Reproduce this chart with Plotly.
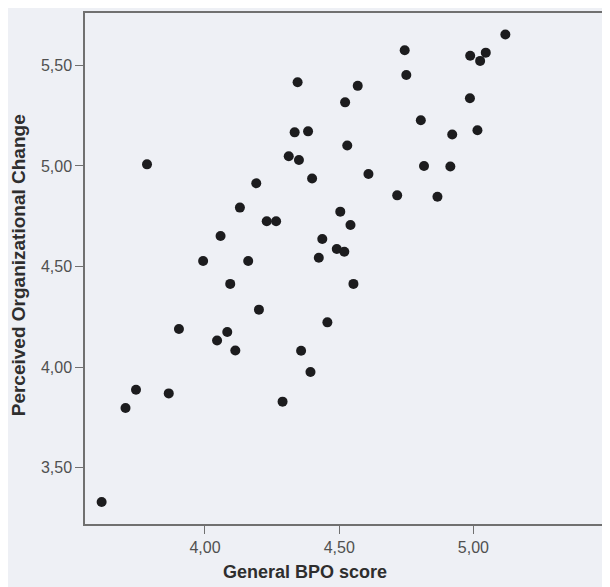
import plotly.graph_objects as go

bpo_score = [
    3.784, 3.993, 4.058, 4.094, 4.130, 4.161, 4.191, 4.230, 4.265, 4.312,
    4.334, 4.345, 4.350, 4.384, 4.399, 4.424, 4.437, 4.491, 4.504, 4.519,
    4.522, 4.530, 4.542, 4.553, 4.569, 4.609, 4.716, 4.744, 4.750, 4.804,
    4.816, 4.866, 4.914, 4.921, 4.987, 4.988, 5.015, 5.025, 5.046, 5.119,
    4.201, 3.903, 4.045, 4.083, 4.113, 4.456, 4.358, 4.393, 4.289, 3.743,
    3.704, 3.865, 3.615,
]
org_change = [
    5.008, 4.528, 4.652, 4.414, 4.793, 4.528, 4.914, 4.725, 4.725, 5.048,
    5.167, 5.416, 5.030, 5.172, 4.938, 4.544, 4.637, 4.587, 4.773, 4.574,
    5.316, 5.102, 4.707, 4.414, 5.398, 4.960, 4.854, 5.575, 5.452, 5.227,
    5.000, 4.847, 4.997, 5.156, 5.336, 5.548, 5.177, 5.522, 5.563, 5.653,
    4.286, 4.190, 4.133, 4.175, 4.083, 4.223, 4.082, 3.976, 3.829, 3.888,
    3.797, 3.870, 3.330,
]
x_ticks = [4.0, 4.5, 5.0]
y_ticks = [3.5, 4.0, 4.5, 5.0, 5.5]
x_title = "General BPO score"
y_title = "Perceived Organizational Change"

bg = "#eef0f5"
axis_col = "#707070"
tick_font = dict(family="Liberation Sans Narrow, Arial Narrow, Liberation Sans, sans-serif",
                 size=16, color="#505050")
title_col = "#2e2e2e"
title_family = "Liberation Sans, Arial, sans-serif"

fig = go.Figure(go.Scatter(
    x=bpo_score, y=org_change, mode="markers",
    marker=dict(size=10, color="#1c1c1e", line=dict(width=0)),
    hoverinfo="x+y",
))

fig.update_layout(
    width=594, height=579,
    margin=dict(l=77, r=0, t=5, b=63, autoexpand=False),
    paper_bgcolor=bg, plot_bgcolor=bg,
    separators=",.",
    showlegend=False,
    xaxis=dict(
        range=[3.553, 5.479], tickvals=x_ticks, tickformat=".2f",
        showgrid=False, zeroline=False, automargin=False,
        showline=True, linecolor=axis_col, linewidth=1.5, mirror=True,
        ticks="outside", ticklen=8, tickcolor=axis_col, tickwidth=1,
        tickfont=tick_font,
    ),
    yaxis=dict(
        range=[3.221, 5.760], tickvals=y_ticks, tickformat=".2f",
        showgrid=False, zeroline=False, automargin=False,
        showline=True, linecolor=axis_col, linewidth=1.5,
        ticks="outside", ticklen=8, tickcolor=axis_col, tickwidth=1,
        tickfont=tick_font,
    ),
    annotations=[
        dict(text="<b>" + x_title + "</b>", xref="paper", yref="paper",
             x=0.4255, y=-0.094, xanchor="center", yanchor="middle",
             showarrow=False, font=dict(family=title_family, size=18, color=title_col)),
        dict(text="<b>" + y_title + "</b>", xref="paper", yref="paper",
             x=-0.127, y=0.507, xanchor="center", yanchor="middle", textangle=-90,
             showarrow=False, font=dict(family=title_family, size=19, color=title_col)),
    ],
)

fig.write_html("out.html")
